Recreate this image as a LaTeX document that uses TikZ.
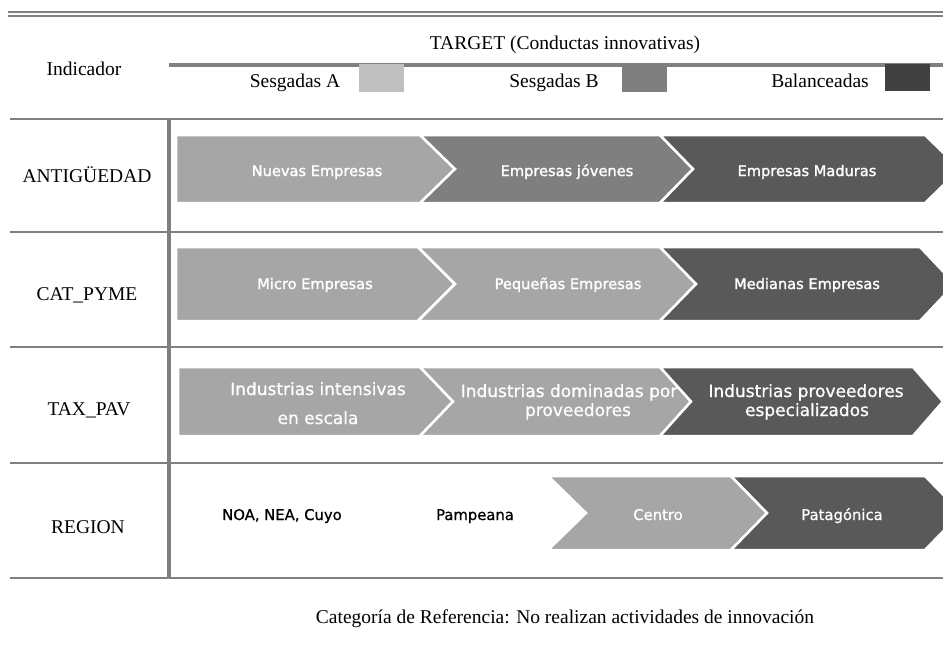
\documentclass[tikz,border=0pt]{standalone}
\usepackage{fontspec}
\setmainfont{Liberation Serif}
\newfontfamily\chevfont{DejaVu Sans}
\newfontfamily\chevboldfont[FakeBold=1.6]{DejaVu Sans}
\newfontfamily\chevmedfont[FakeBold=0.8]{DejaVu Sans}
\definecolor{cLight}{HTML}{A6A6A6}
\definecolor{cMid}{HTML}{7F7F7F}
\definecolor{cDark}{HTML}{595959}
\definecolor{cLegA}{HTML}{BFBFBF}
\definecolor{cLegB}{HTML}{7F7F7F}
\definecolor{cLegC}{HTML}{404040}
\definecolor{cRule}{HTML}{808080}
% #1 colour, #2 x left, #3 x right (top corner), #4 y top, #5 y bottom, #6 notch depth, #7 tip depth
\newcommand\mychev[7]{%
  \path[fill=#1,draw=white,line width=2.5pt,line join=miter]
    (#2,#4) -- (#3,#4) -- ({#3+#7},{(#4+#5)/2}) -- (#3,#5) -- (#2,#5)
    -- ({#2+#6},{(#4+#5)/2}) -- cycle;}
\begin{document}
\begin{tikzpicture}[x=1pt,y=-1pt,
  serif/.style={font=\fontsize{19.5}{23}\selectfont,anchor=base,inner sep=0pt},
  chevtext/.style={font=\chevboldfont\fontsize{14.6}{18}\selectfont,text=white,anchor=base,inner sep=0pt},
  chevbig/.style={font=\chevmedfont\fontsize{17}{20}\selectfont,text=white,anchor=base,inner sep=0pt},
  regchev/.style={font=\chevmedfont\fontsize{14.8}{18}\selectfont,text=white,anchor=base,inner sep=0pt},
  regtext/.style={font=\chevmedfont\fontsize{14.8}{18}\selectfont,text=black,anchor=base,inner sep=0pt},
  rule/.style={draw=cRule,line width=1.5pt},
  legbox/.style={inner sep=0pt,minimum width=45pt,minimum height=28pt,anchor=north west}]
\useasboundingbox (0,0) rectangle (943,646);
\fill[white] (0,0) rectangle (943,646);

% top double rule
\coordinate (tl1) at (8,12);  \coordinate (tr1) at (943,12);
\coordinate (tl2) at (8,16);  \coordinate (tr2) at (943,16);
\draw[rule] (tl1) -- (tr1);
\draw[rule] (tl2) -- (tr2);

% header
\node[serif] (target) at (565,49) {TARGET (Conductas innovativas)};
\node[serif] (indic) at (84,75) {Indicador};
\coordinate (hbl) at (169,65); \coordinate (hbr) at (943,65);
\draw[draw=cRule,line width=4pt] (hbl) -- (hbr);
\node[serif] (sa) at (295,87) {Sesgadas A};
\node[legbox,fill=cLegA] (qa) at (359,64) {};
\node[serif] (sb) at (554,87) {Sesgadas B};
\node[legbox,fill=cLegB] (qb) at (622,64) {};
\node[serif] (sc) at (820,87) {Balanceadas};
\node[legbox,fill=cLegC,minimum height=27pt] (qc) at (885,64) {};

% row separators
\foreach \yy/\nm in {119/s0,232/s1,347/s2,463/s3,578/s4}{
  \coordinate (\nm l) at (10,\yy); \coordinate (\nm r) at (943,\yy);
  \draw[rule] (\nm l) -- (\nm r);
}
% vertical bar
\draw[draw=cMid,line width=4pt] (169,119) coordinate (vt) -- (169,578) coordinate (vb);

% row labels
\node[serif] (l1) at (87,182) {ANTIGÜEDAD};
\node[serif] (l2) at (87,300) {CAT\_PYME};
\node[serif] (l3) at (89,415) {TAX\_PAV};
\node[serif] (l4) at (88,533) {REGION};

% row 1
\mychev{cLight}{176}{420}{135}{203}{0}{35}
\mychev{cMid}{420}{660}{135}{203}{35}{33}
\mychev{cDark}{660}{925}{135}{203}{33}{35}
\node[chevtext] (r1a) at (317,176) {Nuevas Empresas};
\node[chevtext] (r1b) at (567,176) {Empresas jóvenes};
\node[chevtext] (r1c) at (807,176) {Empresas Maduras};

% row 2
\mychev{cLight}{176}{418}{247}{321}{0}{37}
\mychev{cLight}{418}{660}{247}{321}{37}{36}
\mychev{cDark}{660}{920}{247}{321}{36}{35}
\node[chevtext] (r2a) at (315,289) {Micro Empresas};
\node[chevtext] (r2b) at (568,289) {Pequeñas Empresas};
\node[chevtext] (r2c) at (807,289) {Medianas Empresas};

% row 3
\mychev{cLight}{178}{420}{367}{436}{0}{33}
\mychev{cLight}{420}{660}{367}{436}{33}{31}
\mychev{cDark}{660}{913}{367}{436}{31}{30}
\node[chevbig] (r3a1) at (318,395) {Industrias intensivas};
\node[chevbig] (r3a2) at (318,424) {en escala};
\node[chevbig] (r3b1) at (569,397) {Industrias dominadas por};
\node[chevbig] (r3b2) at (578,416) {proveedores};
\node[chevbig] (r3c1) at (806,397) {Industrias proveedores};
\node[chevbig] (r3c2) at (807,416) {especializados};

% row 4
\node[regtext] (r4a) at (282,520) {NOA, NEA, Cuyo};
\node[regtext] (r4b) at (475,520) {Pampeana};
\mychev{cLight}{548}{731}{476}{550}{38}{36}
\mychev{cDark}{731}{925}{476}{550}{36}{36}
\node[regchev] (r4c) at (658,520) {Centro};
\node[regchev] (r4d) at (842,520) {Patagónica};

% caption
\node[serif] (cap) at (565,623) {Categoría de Referencia: No realizan actividades de innovación};
\end{tikzpicture}
\end{document}
